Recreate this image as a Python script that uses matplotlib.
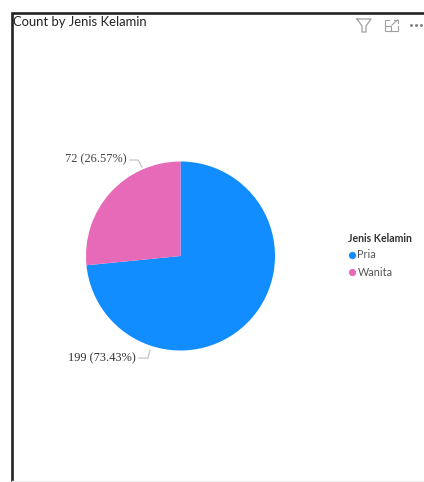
import matplotlib
matplotlib.use('Agg')
import matplotlib.pyplot as plt

categories = ['Pria', 'Wanita']
counts = [199, 72]
percent_labels = ['199 (73.43%)', '72 (26.57%)']
slice_colors = ['#118DFF', '#E66AB8']

title = 'Count by Jenis Kelamin'
legend_title = 'Jenis Kelamin'

W, H = 424, 482
serif = 'Liberation Serif'
sans = 'Lato'


def py(y):
    # pixel rows count from the top
    return H - y


fig = plt.figure(figsize=(W / 100, H / 100), dpi=100)
ax = fig.add_axes([0, 0, 1, 1])
ax.set_xlim(0, W)
ax.set_ylim(0, H)
ax.axis('off')

# card border
ax.plot([11.5, 11.5, W], [0, py(12.5), py(12.5)], color='#222222', lw=1.9,
        solid_joinstyle='miter')
ax.plot([11.5, W], [py(481), py(481)], color='#eeeeee', lw=1)

ax.text(13, py(21.5), title, fontsize=9.4, family=sans, color='#252423',
        va='center', ha='left')

# header icons
ic = '#a0a0a0'
ax.plot([357, 371, 366, 366, 362, 362, 357], [py(19), py(19), py(26), py(32), py(32), py(26), py(19)],
        color=ic, lw=0.9)
ax.plot([389, 384.5, 384.5, 397.5, 397.5], [py(20), py(20), py(31), py(31), py(26)], color=ic, lw=0.8)
ax.plot([384.5, 391, 391], [py(26), py(26), py(31)], color=ic, lw=0.8)
ax.plot([392, 397.5], [py(25), py(20)], color=ic, lw=0.8)
ax.plot([393.5, 397.5, 397.5], [py(20), py(20), py(23)], color=ic, lw=0.8)
ax.plot([411, 416, 421], [py(25)] * 3, ls='none', marker='o', ms=1.1, color='#808080')

# pie, clockwise from twelve o'clock
ax.pie(counts, colors=slice_colors, startangle=90, counterclock=False,
       center=(180.5, py(256)), radius=94.5, frame=False)
ax.set_aspect('equal')
ax.set_xlim(0, W)
ax.set_ylim(0, H)
ax.axis('off')

# leader lines and labels
line = '#c4c4c4'
ax.plot([130, 138, 142], [py(160), py(160), py(167)], color=line, lw=0.9)
ax.plot([139, 148, 150], [py(358), py(358), py(350)], color=line, lw=0.9)
ax.text(127, py(159), percent_labels[1], fontsize=8.9, family=serif, color='#444444',
        ha='right', va='center')
ax.text(136, py(358), percent_labels[0], fontsize=8.9, family=serif, color='#333333',
        ha='right', va='center')

# legend
ax.text(348, py(239), legend_title, fontsize=7.6, family=sans, weight='bold',
        color='#333333', ha='left', va='center')
for cat, col, y in zip(categories, slice_colors, [254.5, 272]):
    ax.plot([352], [py(y)], marker='o', ms=5.2, color=col, mec='none')
    ax.text(357.5, py(y), cat, fontsize=7.8, family=sans, color='#555555',
            ha='left', va='center')

fig.savefig('out.png', dpi=100)
